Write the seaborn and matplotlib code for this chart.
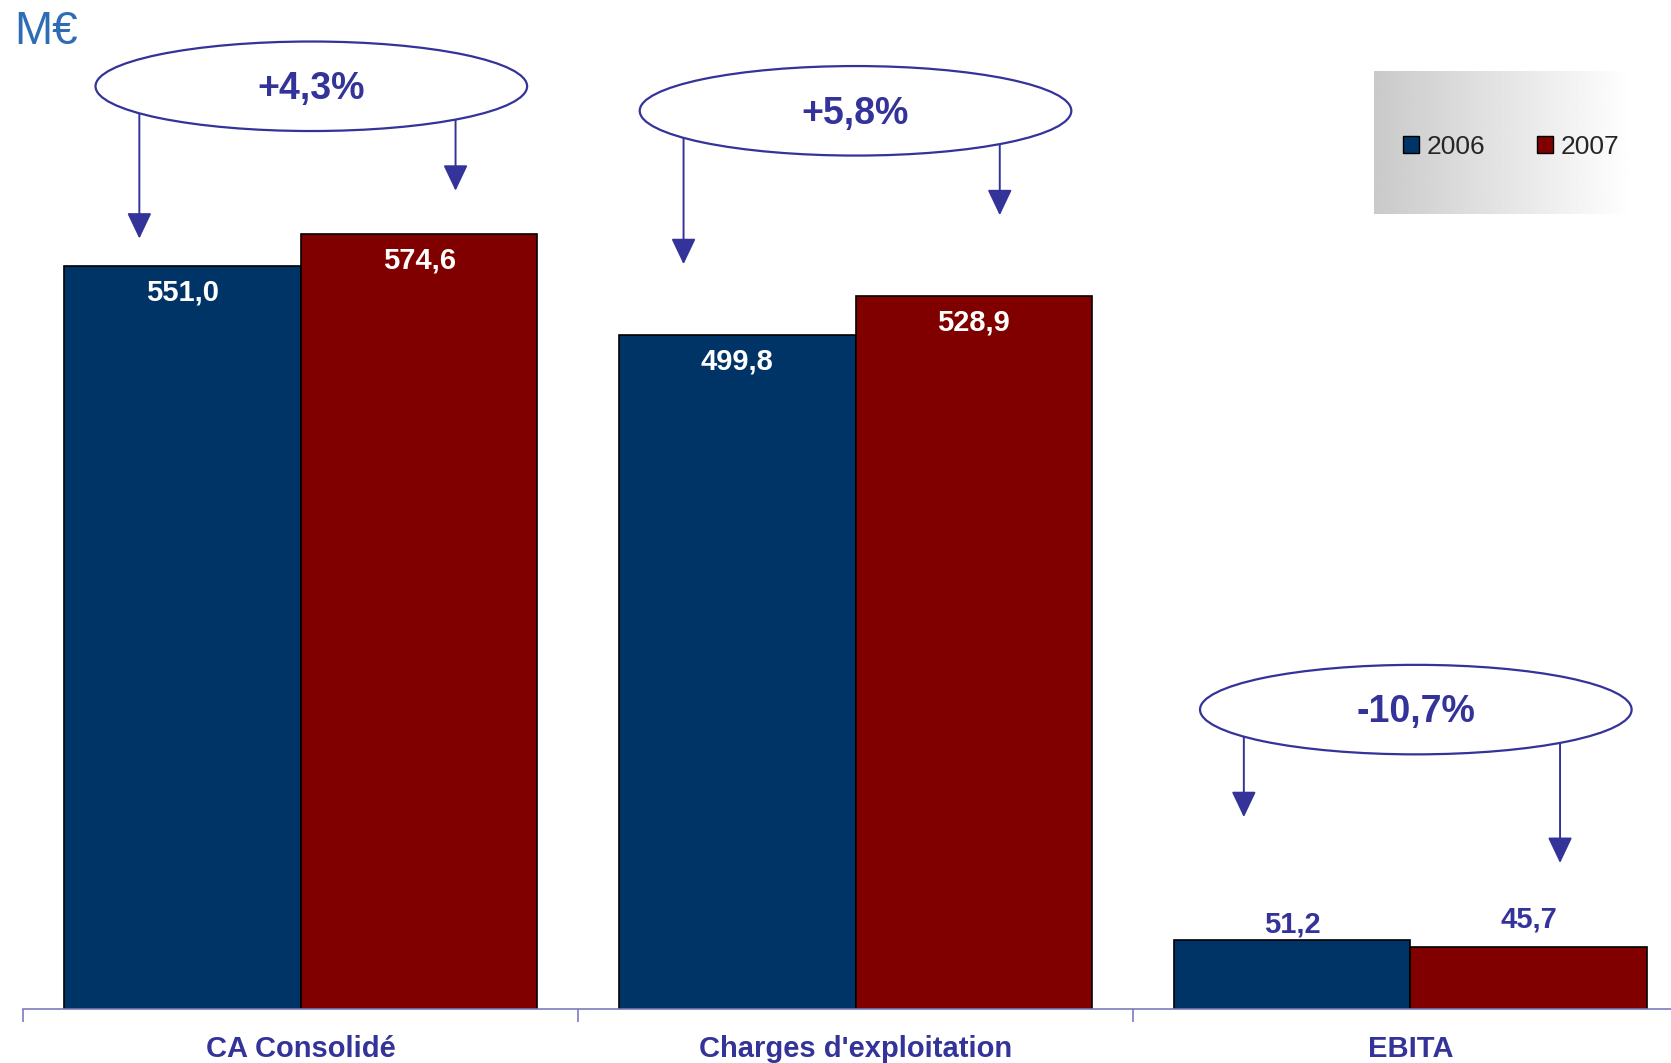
import numpy as np
import pandas as pd
import matplotlib
matplotlib.use("Agg")
import matplotlib.pyplot as plt
from matplotlib.patches import Ellipse
import seaborn as sns

# ---- data ----
categories = ["CA Consolidé", "Charges d'exploitation", "EBITA"]
years = ["2006", "2007"]
values_2006 = [551.0, 499.8, 51.2]
values_2007 = [574.6, 528.9, 45.7]
growth_labels = ["+4,3%", "+5,8%", "-10,7%"]
unit_label = "M€"

# ---- layout (annotation geometry in data units) ----
ellipse_y = [684.5, 666.3, 222.1]
ellipse_dx = [0.019, 0.0, 0.01]
ellipse_w = 0.778
ellipse_h = 66.4
arrow_dx = (-0.31, 0.26)
arrow_tips = [(571.5, 607.0), (552.5, 588.8), (142.3, 108.3)]
small_label_offsets = [11.5, 20.0]

C_BLUE = "#003366"
C_RED = "#800000"
C_TXT = "#333399"

sns.set_theme(style="white")
plt.rcParams["font.family"] = ["Liberation Sans", "DejaVu Sans"]

df = pd.DataFrame({
    "cat": categories * 2,
    "year": [years[0]] * 3 + [years[1]] * 3,
    "val": values_2006 + values_2007,
})

W, H = 1671, 1063
fig = plt.figure(figsize=(W / 100, H / 100), dpi=100)
left = 23.4 / W
ax = fig.add_axes([left, (H - 1009) / H, 1 - left, 1009 / H])

sns.barplot(data=df, x="cat", y="val", hue="year", palette=[C_BLUE, C_RED],
            width=0.853, saturation=1, edgecolor="black", linewidth=1.2,
            ax=ax, legend=False)

ax.set_xticks([-0.5, 0.5, 1.5, 2.5], minor=True)
ax.set_xlim(-0.5, -0.5 + 2.970)
ax.set_ylim(0, 748.5)
ax.set_xlabel("")
ax.set_ylabel("")
ax.set_yticks([])
for s in ["left", "top", "right"]:
    ax.spines[s].set_visible(False)
ax.spines["bottom"].set_color("#7b7bbd")
ax.spines["bottom"].set_linewidth(1.2)
ax.tick_params(axis="x", which="major", bottom=False, length=0, pad=19,
               labelsize=21, labelcolor=C_TXT)
for lbl in ax.get_xticklabels():
    lbl.set_fontweight("bold")
ax.tick_params(axis="x", which="minor", bottom=True, length=9, width=1.2,
               color="#7b7bbd", direction="out")

# value labels
for j, cont in enumerate(ax.containers):
    for p in cont.patches:
        h = p.get_height()
        xc = p.get_x() + p.get_width() / 2
        lab = f"{h:.1f}".replace(".", ",")
        if h > 200:
            ax.annotate(lab, (xc, h), xytext=(0, -19), textcoords="offset points",
                        ha="center", va="center", color="white",
                        fontsize=21, fontweight="bold")
        else:
            ax.annotate(lab, (xc, h), xytext=(0, small_label_offsets[j]),
                        textcoords="offset points",
                        ha="center", va="center", color=C_TXT,
                        fontsize=21, fontweight="bold")

# growth ellipses and arrows
for i, (lab, ey) in enumerate(zip(growth_labels, ellipse_y)):
    ex = i + ellipse_dx[i]
    e = Ellipse((ex, ey), ellipse_w, ellipse_h, facecolor="white",
                edgecolor=C_TXT, linewidth=1.6, zorder=4)
    ax.add_patch(e)
    ax.annotate(lab, (ex, ey), xytext=(0, -2), textcoords="offset points",
                ha="center", va="center", fontsize=27,
                fontweight="bold", color=C_TXT, zorder=5)
    for dx, tip in zip(arrow_dx, arrow_tips[i]):
        ax_x = ex + dx
        rel = dx / (ellipse_w / 2)
        y0 = ey - (ellipse_h / 2) * np.sqrt(max(0.0, 1 - rel ** 2))
        ax.annotate("", xy=(ax_x, tip), xytext=(ax_x, y0),
                    arrowprops=dict(arrowstyle="-|>,head_length=0.8,head_width=0.38",
                                    mutation_scale=20, color=C_TXT, lw=1.4,
                                    shrinkA=0, shrinkB=0), zorder=3)

# unit label
fig.text(13 * 1.0657 / W, 1 - 30 * 1.0657 / H, unit_label, fontsize=33,
         color="#2E6DB4", ha="left", va="center")

# legend box with gradient
lax = fig.add_axes([1374 / W, (H - 214) / H, (1632 - 1374) / W, 143 / H])
grad = np.linspace(0.79, 1.0, 256).reshape(1, -1)
lax.imshow(grad, aspect="auto", cmap="gray", vmin=0, vmax=1,
           extent=[0, 1, 0, 1])
lax.set_xlim(0, 1)
lax.set_ylim(0, 1)
lax.axis("off")
handles = [plt.Rectangle((0, 0), 1, 1, facecolor=c, edgecolor="black", lw=1)
           for c in [C_BLUE, C_RED]]
lax.legend(handles, years, loc="center", bbox_to_anchor=(0.533, 0.47), ncol=2,
           frameon=False, fontsize=19, handlelength=0.6, handleheight=0.6,
           handletextpad=0.3, columnspacing=1.95)

fig.savefig("out.png", dpi=100)
